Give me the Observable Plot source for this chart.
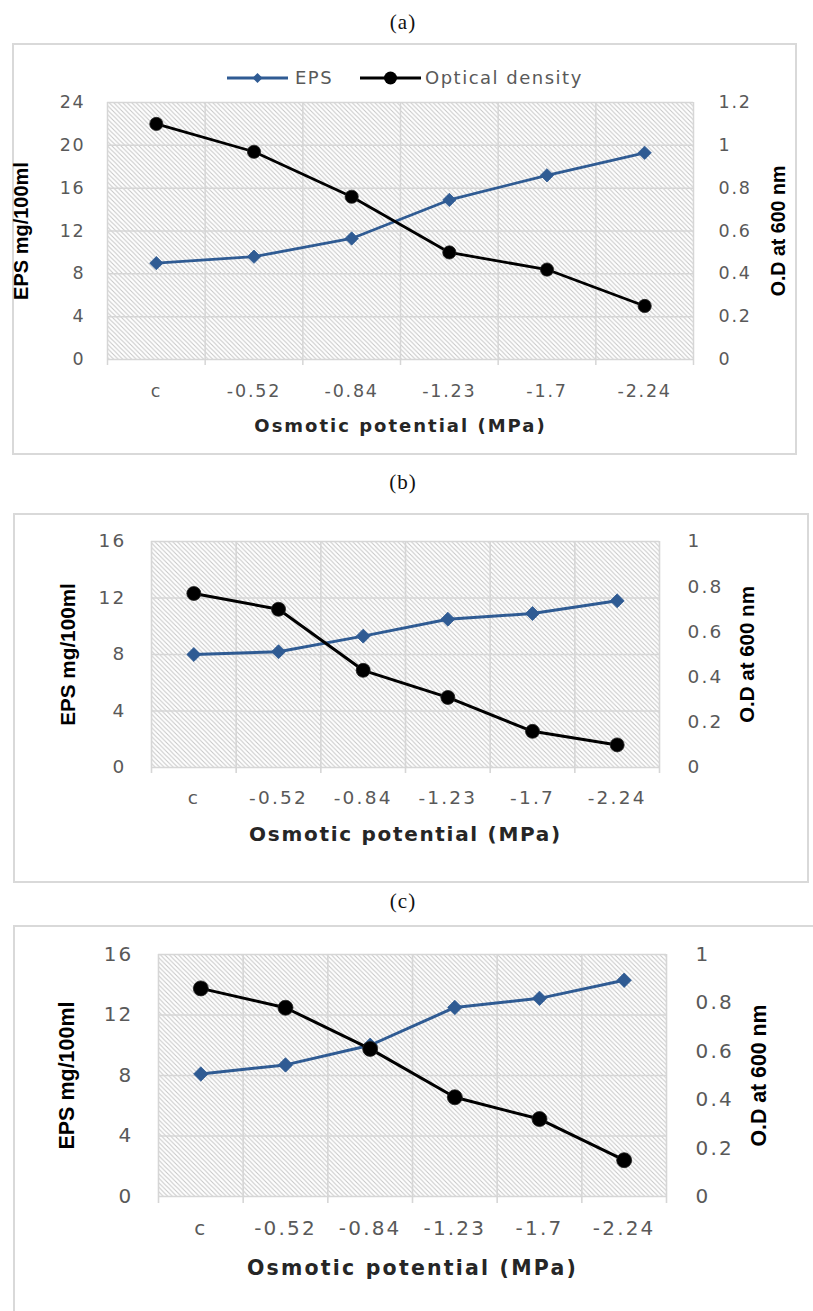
<!DOCTYPE html>
<html><head><meta charset="utf-8">
<script src="https://cdn.jsdelivr.net/npm/d3@7"></script>
<script src="https://cdn.jsdelivr.net/npm/@observablehq/plot@0.6"></script>
<style>
html,body{margin:0;padding:0;background:#fff;}
#page{position:relative;width:813px;height:1311px;overflow:hidden;background:#fff;}
.cap{position:absolute;left:0;width:806px;text-align:center;font-family:"Liberation Serif","Times New Roman",serif;font-size:21px;letter-spacing:1px;color:#111;line-height:22px;height:22px;}
.box{position:absolute;border:2px solid #d9d9d9;box-sizing:border-box;background:#fff;}
.chart{position:absolute;left:0;}
.chart svg{display:block;overflow:visible;}
.leg{position:absolute;left:0;top:0;}
</style></head><body><div id="page"></div>
<script>
// ---- data ----
const categories = ["c", "-0.52", "-0.84", "-1.23", "-1.7", "-2.24"];
const epsA = [9.0, 9.6, 11.3, 14.9, 17.2, 19.3];
const odA  = [1.10, 0.97, 0.76, 0.50, 0.42, 0.25];
const epsB = [8.0, 8.2, 9.3, 10.5, 10.9, 11.8];
const odB  = [0.77, 0.70, 0.43, 0.31, 0.16, 0.10];
const epsC = [8.1, 8.7, 10.0, 12.5, 13.1, 14.3];
const odC  = [0.86, 0.78, 0.61, 0.41, 0.32, 0.15];
const epsTicksA = [0, 4, 8, 12, 16, 20, 24];
const odTicksA  = [0, 0.2, 0.4, 0.6, 0.8, 1, 1.2];
const epsTicksBC = [0, 4, 8, 12, 16];
const odTicksBC  = [0, 0.2, 0.4, 0.6, 0.8, 1];
const panelLabels = ["(a)", "(b)", "(c)"];
const xTitle = "Osmotic potential (MPa)";
const yTitle = "EPS mg/100ml";
const y2Title = "O.D at 600 nm";
const seriesNames = ["EPS", "Optical density"];

// ---- styles / layout ----
const BLUE = "#2f5b93", BLACK = "#000", GRID = "#d6d6d6", TICK = "#595959";
const layouts = [
  {id:"a", top:43, h:412, ml:107, pr:693, mt:59, mb:96, capY:22, box:[12,43,797,455],
   fs:17.5, ls:1.8, lp:22, rp:25, xp:25, xt:67, xfs:18, xls:2, ylx:21, yfs:20, y2x:778, y2fs:19.6,
   gw:1.5, tick:6, lw:2.8, dr:6, cr:6.6},
  {id:"b", top:513, h:370, ml:151, pr:659, mt:28, mb:116, capY:482, box:[13,513,809,883],
   fs:18.5, ls:2.2, lp:25, rp:28, xp:23, xt:67, xfs:20, xls:1.7, ylx:68, yfs:20.7, y2x:747, y2fs:20.5,
   gw:1.6, tick:6, lw:3, dr:6.3, cr:7},
  {id:"c", top:925, h:386, ml:158, pr:666, mt:29, mb:115, capY:901, box:[13,925,830,1340],
   fs:20, ls:2.2, lp:25, rp:29, xp:24, xt:72, xfs:20.5, xls:2.2, ylx:67, yfs:21.5, y2x:759, y2fs:21.3,
   gw:1.6, tick:7, lw:3, dr:6.5, cr:7.5}
];
const page = document.getElementById("page");

function makePanel(L, label, eps, od, ticks, odTicks) {
  const cap = document.createElement("div");
  cap.className = "cap"; cap.style.top = (L.capY - 11) + "px"; cap.textContent = label;
  page.appendChild(cap);
  const box = document.createElement("div");
  box.className = "box";
  box.style.left = L.box[0] + "px"; box.style.top = L.box[1] + "px";
  box.style.width = (L.box[2] - L.box[0]) + "px"; box.style.height = (L.box[3] - L.box[1]) + "px";
  page.appendChild(box);

  const yMax = ticks[ticks.length - 1];
  const k = yMax / odTicks[odTicks.length - 1];
  const rows = categories.map((c, i) => ({i, c, eps: eps[i], od: od[i]}));
  const bounds = categories.map((_, i) => i - 0.5).concat([categories.length - 0.5]);
  const txt = {fontFamily: "DejaVu Sans"};

  const svg = Plot.plot({
    width: 813, height: L.h,
    marginLeft: L.ml, marginRight: 813 - L.pr, marginTop: L.mt, marginBottom: L.mb,
    x: {type: "linear", domain: [-0.5, categories.length - 0.5]},
    y: {type: "linear", domain: [0, yMax]},
    style: {fontFamily: "DejaVu Sans", fontSize: L.fs + "px", color: TICK, background: "transparent", overflow: "visible"},
    marks: [
      Plot.frame({fill: `url(#hatch-${L.id})`, stroke: "none"}),
      Plot.ruleY(ticks, {stroke: GRID, strokeWidth: L.gw}),
      Plot.ruleX(bounds, {stroke: GRID, strokeWidth: L.gw, insetBottom: -L.tick}),
      Plot.axisY({anchor: "left", ticks, tickSize: 0, tickPadding: L.lp, label: null,
        tickFormat: d => String(d), fill: TICK, fontSize: L.fs, ...txt}),
      Plot.axisY({anchor: "right", ticks: odTicks.map(v => v * k), tickSize: 0, tickPadding: L.rp, label: null,
        tickFormat: d => String(Math.round(d / k * 10) / 10), fill: TICK, fontSize: L.fs, ...txt}),
      Plot.axisX({anchor: "bottom", ticks: categories.map((_, i) => i), tickSize: 0, tickPadding: L.xp, label: null,
        tickFormat: i => categories[i], fill: TICK, fontSize: L.fs, ...txt}),
      Plot.line(rows, {x: "i", y: "eps", stroke: BLUE, strokeWidth: L.lw}),
      Plot.dot(rows, {x: "i", y: "eps", symbol: "diamond2", r: L.dr, fill: BLUE, stroke: BLUE, strokeWidth: 0.8}),
      Plot.line(rows, {x: "i", y: d => d.od * k, stroke: BLACK, strokeWidth: L.lw}),
      Plot.dot(rows, {x: "i", y: d => d.od * k, r: L.cr, fill: BLACK, stroke: "#222", strokeWidth: 0.8}),
      Plot.text([xTitle], {text: d => d, frameAnchor: "bottom", dy: L.xt, textAnchor: "middle", lineAnchor: "middle",
        fontFamily: "DejaVu Sans", fontWeight: "bold", fontSize: L.xfs, fill: "#262626"}),
      Plot.text([yTitle], {text: d => d, frameAnchor: "left", dx: L.ylx - L.ml, rotate: -90, textAnchor: "middle", lineAnchor: "middle",
        fontFamily: "Liberation Sans", fontWeight: "bold", fontSize: L.yfs, fill: "#000"}),
      Plot.text([y2Title], {text: d => d, frameAnchor: "right", dx: L.y2x - L.pr, rotate: -90, textAnchor: "middle", lineAnchor: "middle",
        fontFamily: "Liberation Sans", fontWeight: "bold", fontSize: L.y2fs, fill: "#000"})
    ]
  });
  const s = d3.select(svg);
  s.insert("defs", ":first-child").html(
    `<pattern id="hatch-${L.id}" patternUnits="userSpaceOnUse" width="4.5" height="4.5">
       <rect width="4.5" height="4.5" fill="#fff"/>
       <path d="M-1,-1L5.5,5.5M-1,3.5L1,5.5M3.5,-1L5.5,1" stroke="#c6c6c6" stroke-width="1"/>
     </pattern>`);
  s.selectAll("text").style("letter-spacing", L.ls + "px");
  s.selectAll("text").filter(function(){ return this.textContent === xTitle; }).style("letter-spacing", L.xls + "px");
  s.selectAll("text").filter(function(){ return this.textContent === yTitle || this.textContent === y2Title; }).style("letter-spacing", "0px");
  const wrap = document.createElement("div");
  wrap.className = "chart"; wrap.style.top = L.top + "px";
  wrap.appendChild(svg);
  page.appendChild(wrap);
}

makePanel(layouts[0], panelLabels[0], epsA, odA, epsTicksA, odTicksA);
makePanel(layouts[1], panelLabels[1], epsB, odB, epsTicksBC, odTicksBC);
makePanel(layouts[2], panelLabels[2], epsC, odC, epsTicksBC, odTicksBC);

// ---- legend for panel (a) ----
const legItems = [
  {name: seriesNames[0], color: BLUE, shape: "diamond", x0: 227, x1: 288, xt: 295},
  {name: seriesNames[1], color: BLACK, shape: "circle", x0: 360, x1: 421, xt: 425}
];
const leg = d3.select(page).append("svg").attr("class", "leg").attr("width", 813).attr("height", 100)
  .style("position", "absolute").style("left", "0px").style("top", "0px");
const ly = 78;
legItems.forEach(it => {
  leg.append("line").attr("x1", it.x0).attr("x2", it.x1).attr("y1", ly).attr("y2", ly)
    .attr("stroke", it.color).attr("stroke-width", 2.8);
  const cx = (it.x0 + it.x1) / 2;
  if (it.shape === "diamond") {
    leg.append("path").attr("d", `M${cx},${ly-5}L${cx+5},${ly}L${cx},${ly+5}L${cx-5},${ly}Z`).attr("fill", it.color);
  } else {
    leg.append("circle").attr("cx", cx).attr("cy", ly).attr("r", 6.5).attr("fill", it.color);
  }
  leg.append("text").attr("x", it.xt).attr("y", ly).attr("dy", "0.36em").text(it.name)
    .attr("font-family", "DejaVu Sans").attr("font-size", 18).attr("fill", TICK).style("letter-spacing", "1.5px");
});
</script>
</body></html>
